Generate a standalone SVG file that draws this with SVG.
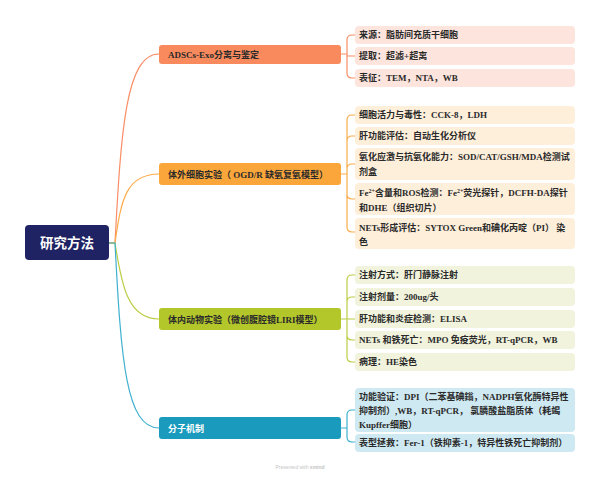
<svg xmlns="http://www.w3.org/2000/svg" width="600" height="480" viewBox="0 0 600 480">
<style>
text{font-family:"Liberation Serif","Noto Sans CJK SC",serif;font-weight:bold;fill:#2a2a2a}
.lt{font-size:9px}
.bt{font-size:9px}
.rt{font-size:13.5px;fill:#ffffff}
.c1{stroke:#f98d66}.c2{stroke:#fbac4c}.c3{stroke:#bccd45}.c4{stroke:#3fb0cf}
.cn path{fill:none;stroke-width:1.2}
.l1{fill:#fde4dc}.l2{fill:#feefdb}.l3{fill:#f1f3dd}.l4{fill:#cfe9f2}
.sup{font-size:6px}
</style>
<rect width="600" height="480" fill="#ffffff"/>
<g id="connectors" class="cn">
  <path class="c1" d="M109,243 H115 C121,130 126,54 159,54"/>
  <path class="c2" d="M109,243 H115 C121,200 126,174 159,174"/>
  <path class="c3" d="M109,243 H115 C121,280 126,319 159,319"/>
  <path class="c4" d="M109,243 H115 C121,360 126,428 159,428"/>
  <path class="c1" d="M341,54 H347 M347,54 V40 Q347,35 352,35 H355 M347,54 V56 H355 M347,54 V73 Q347,78 352,78 H355"/>
  <path class="c2" d="M341,174 H347 M347,174 V120 Q347,115 352,115 H355 M347,174 V141 Q347,136 352,136 H355 M347,174 V169 Q347,164 352,164 H355 M347,174 V194 Q347,199 352,199 H355 M347,174 V227 Q347,232 352,232 H355"/>
  <path class="c3" d="M341,319 H347 M347,319 V280 Q347,275 352,275 H355 M347,319 V302 Q347,297 352,297 H355 M347,319 V319 H355 M347,319 V335 Q347,340 352,340 H355 M347,319 V357 Q347,362 352,362 H355"/>
  <path class="c4" d="M341,428 H347 M347,428 V415 Q347,410 352,410 H355 M347,428 V437 Q347,442 352,442 H355"/>
</g>
<g id="root">
  <rect x="25" y="225" width="84" height="35" rx="4" fill="#1f2363"/>
  <text class="rt" x="67" y="248" text-anchor="middle">研究方法</text>
</g>
<g id="b1">
  <rect x="159" y="45" width="182" height="19" rx="3" fill="#f98a5e"/>
  <text class="bt" x="168" y="57.5">ADSCs-Exo分离与鉴定</text>
</g>
<g id="b2">
  <rect x="159" y="163" width="182" height="22" rx="3" fill="#fba63b"/>
  <text class="bt" x="168" y="177.5">体外细胞实验（ OGD/R 缺氧复氧模型）</text>
</g>
<g id="b3">
  <rect x="159" y="308" width="182" height="22" rx="3" fill="#b3c62a"/>
  <text class="bt" x="168" y="322.5">体内动物实验（微创腹腔镜LIRI模型）</text>
</g>
<g id="b4">
  <rect x="159" y="417" width="182" height="22" rx="3" fill="#1a9bbd"/>
  <text class="bt" x="168" y="431.5" fill="#ffffff" style="fill:#ffffff">分子机制</text>
</g>
<g id="l1a"><rect class="l1" x="355" y="26" width="220" height="18" rx="4"/><text class="lt" x="359" y="38">来源：脂肪间充质干细胞</text></g>
<g id="l1b"><rect class="l1" x="355" y="47" width="220" height="18" rx="4"/><text class="lt" x="359" y="59">提取：超滤+超离</text></g>
<g id="l1c"><rect class="l1" x="355" y="69" width="220" height="18" rx="4"/><text class="lt" x="359" y="81">表征：TEM，NTA，WB</text></g>
<g id="l2a"><rect class="l2" x="355" y="106" width="220" height="18" rx="4"/><text class="lt" x="359" y="118">细胞活力与毒性：CCK-8，LDH</text></g>
<g id="l2b"><rect class="l2" x="355" y="127" width="220" height="18" rx="4"/><text class="lt" x="359" y="139">肝功能评估：自动生化分析仪</text></g>
<g id="l2c"><rect class="l2" x="355" y="148" width="220" height="32" rx="4"/><text class="lt" x="359" y="160">氧化应激与抗氧化能力：SOD/CAT/GSH/MDA检测试</text><text class="lt" x="359" y="175">剂盒</text></g>
<g id="l2d"><rect class="l2" x="355" y="183" width="220" height="32" rx="4"/><text class="lt" x="359" y="196">Fe<tspan class="sup" dy="-3">2+</tspan><tspan dy="3">含量和ROS检测：Fe</tspan><tspan class="sup" dy="-3">2+</tspan><tspan dy="3">荧光探针，DCFH-DA探针</tspan></text><text class="lt" x="359" y="211">和DHE（组织切片）</text></g>
<g id="l2e"><rect class="l2" x="355" y="218" width="220" height="31" rx="4"/><text class="lt" x="359" y="231">NETs形成评估：SYTOX Green和碘化丙啶（PI） 染</text><text class="lt" x="359" y="245">色</text></g>
<g id="l3a"><rect class="l3" x="355" y="266" width="220" height="18" rx="4"/><text class="lt" x="359" y="278">注射方式：肝门静脉注射</text></g>
<g id="l3b"><rect class="l3" x="355" y="288" width="220" height="18" rx="4"/><text class="lt" x="359" y="300">注射剂量：200ug/头</text></g>
<g id="l3c"><rect class="l3" x="355" y="310" width="220" height="18" rx="4"/><text class="lt" x="359" y="322">肝功能和炎症检测：ELISA</text></g>
<g id="l3d"><rect class="l3" x="355" y="331" width="220" height="18" rx="4"/><text class="lt" x="359" y="343">NETs 和铁死亡：MPO 免疫荧光，RT-qPCR，WB</text></g>
<g id="l3e"><rect class="l3" x="355" y="353" width="220" height="18" rx="4"/><text class="lt" x="359" y="365">病理：HE染色</text></g>
<g id="l4a"><rect class="l4" x="355" y="388" width="220" height="44" rx="4"/><text class="lt" x="359" y="400">功能验证：DPI（二苯基碘鎓，NADPH氧化酶特异性</text><text class="lt" x="359" y="414">抑制剂）,WB，RT-qPCR， 氯膦酸盐脂质体（耗竭</text><text class="lt" x="359" y="428">Kupffer细胞）</text></g>
<g id="l4b"><rect class="l4" x="355" y="434" width="220" height="18" rx="4"/><text class="lt" x="359" y="446">表型拯救：Fer-1（铁抑素-1，特异性铁死亡抑制剂）</text></g>
<text x="300" y="469" text-anchor="middle" style="font-family:'Liberation Sans',sans-serif;font-size:5px;font-weight:normal;fill:#c4c4c4">Presented with <tspan style="font-weight:bold">xmind</tspan></text>
</svg>
